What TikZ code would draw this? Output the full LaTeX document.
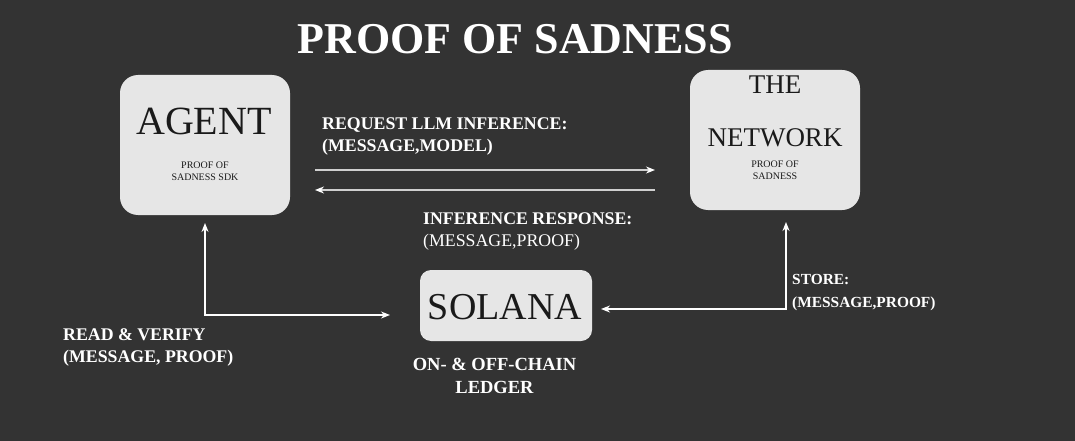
\documentclass[tikz,border=0pt]{standalone}
\usepackage{fontspec}
\setmainfont{Liberation Serif}
\usetikzlibrary{arrows.meta}
\definecolor{bg}{HTML}{333333}
\definecolor{boxfill}{HTML}{E6E6E6}
\definecolor{boxtext}{HTML}{1A1A1A}
\definecolor{linegray}{HTML}{D0D0D0}
\begin{document}
\begin{tikzpicture}[x=1pt,y=-1pt,
  box/.style={fill=boxfill, rounded corners=18pt, inner sep=0pt},
  big/.style={text=boxtext, inner sep=0pt},
  small/.style={text=boxtext, inner sep=0pt, align=center, font=\fontsize{10}{12.5}\selectfont},
  lbl/.style={text=white, inner sep=0pt, align=left, anchor=north west, font=\bfseries\fontsize{17.8}{22}\selectfont},
  conn/.style={draw=white, line width=1.4pt, {Stealth[length=9pt,width=7pt]}-{Stealth[length=9pt,width=7pt]}},
  flow/.style={draw=linegray, line width=1.4pt, -{Stealth[length=9pt,width=7pt,color=white]}}
]
\fill[bg] (0,0) rectangle (1075,441);
\useasboundingbox (0,0) rectangle (1075,441);

\node[text=white, inner sep=0pt, font=\bfseries\fontsize{44}{50}\selectfont] (title) at (515,39) {PROOF OF SADNESS};

% boxes
\node[box, minimum width=170pt, minimum height=140pt] (agent) at (205,145) {};
\node[big, font=\fontsize{40}{44}\selectfont] (agentT) at (204,121) {AGENT};
\node[small] (agentS) at (205,171) {PROOF OF\\SADNESS SDK};

\node[box, minimum width=170pt, minimum height=140pt] (net) at (775,140) {};
\node[big, font=\fontsize{27}{30}\selectfont] (netA) at (775,85) {THE};
\node[big, font=\fontsize{27}{30}\selectfont] (netB) at (775,138) {NETWORK};
\node[small] (netS) at (775,170) {PROOF OF\\SADNESS};

\node[box, rounded corners=11pt, minimum width=172pt, minimum height=71pt] (sol) at (506,305.5) {};
\node[big, font=\fontsize{38}{40}\selectfont] (solT) at (505,307) {SOLANA};

% labels
\node[lbl] (req) at (322,118) {REQUEST LLM INFERENCE:\\(MESSAGE,MODEL)};
\node[lbl] (resp) at (423,213) {INFERENCE RESPONSE:\\\mdseries(MESSAGE,PROOF)};
\node[lbl] (read) at (63,328) {READ \& VERIFY\\(MESSAGE, PROOF)};
\node[lbl, font=\bfseries\fontsize{15.4}{23}\selectfont] (store) at (792,274) {STORE:\\(MESSAGE,PROOF)};
\node[lbl, anchor=north, align=center, font=\bfseries\fontsize{18.5}{22.5}\selectfont] (ledger) at (494.5,358) {ON- \& OFF-CHAIN\\LEDGER};

% connectors
\coordinate (reqS) at (315,170);
\coordinate (reqE) at (655,170);
\coordinate (respS) at (655,190);
\coordinate (respE) at (315,190);
\draw[flow] (reqS) -- (reqE);
\draw[flow] (respS) -- (respE);

\coordinate (agentB) at (205,223);
\coordinate (solL) at (390,315);
\draw[conn] (agentB) |- (solL);

\coordinate (netB2) at (786,222);
\coordinate (solR) at (601,309);
\draw[conn] (netB2) |- (solR);
\end{tikzpicture}
\end{document}
